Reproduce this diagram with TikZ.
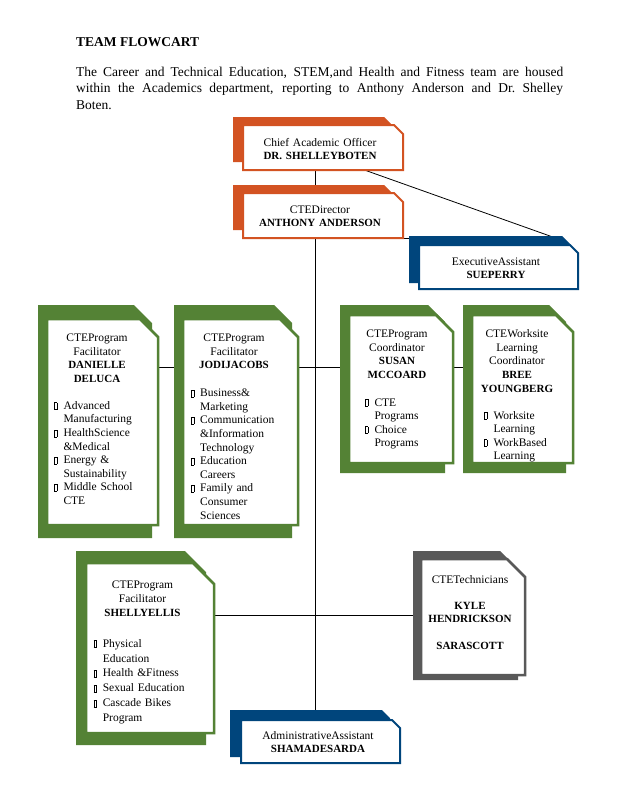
\documentclass[tikz,border=0pt]{standalone}
\usepackage{fontspec}
\setmainfont{Liberation Serif}
\usetikzlibrary{backgrounds}

\newcommand{\bodyfont}{\fontsize{13.5}{16.7}\selectfont}
\newcommand{\boxfont}{\fontsize{11.5}{13.6}\selectfont}
\newcommand{\who}[1]{{\fontsize{11}{13.6}\selectfont\bfseries #1}}
\newcommand{\bl}{\makebox[9.3pt][l]{\fboxsep=0pt\fboxrule=0.4pt\fbox{\rule{0pt}{6.5pt}\hspace{2.2pt}}}}
\newcommand{\ind}{\hspace*{9.3pt}}
\newcommand{\cutrect}[5]{(#1,#2) -- (#3-#5,#2) -- (#3,#2+#5) -- (#3,#4) -- (#1,#4) -- cycle}

\tikzset{
  card/.style={rectangle, inner sep=0pt, draw=none},
  head/.style={font=\boxfont, align=center, text width=130, anchor=base, inner sep=0pt},
  items/.style={font=\boxfont, align=left, text width=110, anchor=base west, inner sep=0pt},
  link/.style={draw=black, line width=0.8pt},
}

\begin{document}
\begin{tikzpicture}[x=1pt,y=-1pt]
    \definecolor{ctaOrange}{HTML}{D35322}
    \definecolor{ctaGreen}{HTML}{548235}
    \definecolor{ctaNavy}{HTML}{00457C}
    \definecolor{ctaGrey}{HTML}{595959}
    \useasboundingbox (0,0) rectangle (618,800);

    % heading and intro
    \node[font=\bodyfont\bfseries, anchor=base west, inner sep=0pt] (title) at (76,46.7) {TEAM FLOWCART};
    \node[font=\bodyfont, text width=487, align=justify, anchor=base west, inner sep=0pt] (intro) at (76,76)
      {The Career and Technical Education, STEM,and Health and Fitness team are housed\linebreak
       within the Academics department, reporting to Anthony Anderson and Dr.\ Shelley\linebreak
       Boten.};

    % cards: back shape, then the white front
    \foreach \nm/\col/\lw/\xa/\ya/\xb/\yb/\xc/\yc/\xd/\yd/\cutsz in {
      chief/ctaOrange/2/233/117/393/162/243/125/403/170/9,
      dir/ctaOrange/2/233/185/393/230/243/193/403/238/9,
      exec/ctaNavy/2/409/236/570/283/419/245/578/289/8,
      dan/ctaGreen/2.5/38/305/152/538/47/319/158/525/18,
      jodi/ctaGreen/2.5/174/305/292/538/183/319/298/525/18,
      susan/ctaGreen/2.5/340/305/445/473/349/315/453/463/17,
      bree/ctaGreen/2.5/463/305/566/473/472/315/573/463/17,
      shelly/ctaGreen/2.5/76/551/206/745/86/563/214/733/21,
      tech/ctaGrey/2.5/413/551/518/680/421/559/525/675/18,
      admin/ctaNavy/2/230/710/390/757/241/720/400/763/8} {
      \fill[\col] \cutrect{\xa}{\ya}{\xb}{\yb}{\cutsz};
      \node[card, minimum width=\xd-\xc, minimum height=\yd-\yc] (\nm) at ({(\xc+\xd)/2},{(\yc+\yd)/2}) {};
      \filldraw[fill=white, draw=\col, line width=\lw pt] \cutrect{\xc}{\yc}{\xd}{\yd}{\cutsz};
    }

    % texts
    \node[head] (chief-txt) at (320,146) {Chief Academic Officer\\\who{DR. SHELLEYBOTEN}};
    \node[head] (dir-txt) at (320,213) {CTEDirector\\\who{ANTHONY ANDERSON}};
    \node[head] (exec-txt) at (496,265) {ExecutiveAssistant\\\who{SUEPERRY}};
    \node[head] (admin-txt) at (318,739) {AdministrativeAssistant\\\who{SHAMADESARDA}};
    \node[head] (tech-txt) at (470,583) {CTETechnicians\\[12.6pt]\who{KYLE}\\\who{HENDRICKSON}\\[13pt]\who{SARASCOTT}};

    \node[head] (dan-txt) at (97,341.7) {CTEProgram\\Facilitator\\\who{DANIELLE}\\\who{DELUCA}};
    \node[items] (dan-list) at (54,409.3) {\bl Advanced\\\ind Manufacturing\\\bl HealthScience\\\ind\&Medical\\
      \bl Energy \&\\\ind Sustainability\\\bl Middle School\\\ind CTE};

    \node[head] (jodi-txt) at (234,341.7) {CTEProgram\\Facilitator\\\who{JODIJACOBS}};
    \node[items] (jodi-list) at (190.7,396.7) {\bl Business\&\\\ind Marketing\\\bl Communication\\\ind\&Information\\
      \ind Technology\\\bl Education\\\ind Careers\\\bl Family and\\\ind Consumer\\\ind Sciences};

    \node[head] (susan-txt) at (397,337.7) {CTEProgram\\Coordinator\\\who{SUSAN}\\\who{MCCOARD}};
    \node[items] (susan-list) at (365,406) {\bl CTE\\\ind Programs\\\bl Choice\\\ind Programs};

    \node[head] (bree-txt) at (517,337.7) {CTEWorksite\\Learning\\Coordinator\\\who{BREE}\\\who{YOUNGBERG}};
    \begin{scope}
      \clip (bree.north west) rectangle ([yshift=1pt]bree.south east);
      \node[items] (bree-list) at (484,419) {\bl Worksite\\\ind Learning\\\bl WorkBased\\\ind Learning};
    \end{scope}

    \node[head, font=\fontsize{11.5}{14.2}\selectfont] (shelly-txt) at (142.5,588.3) {CTEProgram\\Facilitator\\\who{SHELLYELLIS}};
    \node[items, font=\fontsize{11.5}{14.8}\selectfont] (shelly-list) at (93.3,647.3) {\bl Physical\\\ind Education\\
      \bl Health \&Fitness\\\bl Sexual Education\\\bl Cascade Bikes\\\ind Program};

    % connectors
    \begin{pgfonlayer}{background}
      \fill[white] (0,0) rectangle (618,800);
      \coordinate (spine) at (315,0);
      \coordinate (rowA) at (0,367);
      \coordinate (rowB) at (0,615);
      \coordinate (execTop) at ([xshift=-26pt,yshift=8pt]exec.north east);
      \draw[link] (chief.south -| spine) -- (dir.north -| spine);
      \draw[link] (dir.south -| spine) -- (admin.north -| spine);
      \draw[link] ([xshift=42pt]chief.south) -- (execTop);
      \draw[link] (dir.south east) -- (dir.south -| exec.west);
      \draw[link] (dan.east |- rowA) -- (bree.west |- rowA);
      \draw[link] (shelly.east |- rowB) -- (tech.west |- rowB);
    \end{pgfonlayer}
  \end{tikzpicture}
\end{document}
